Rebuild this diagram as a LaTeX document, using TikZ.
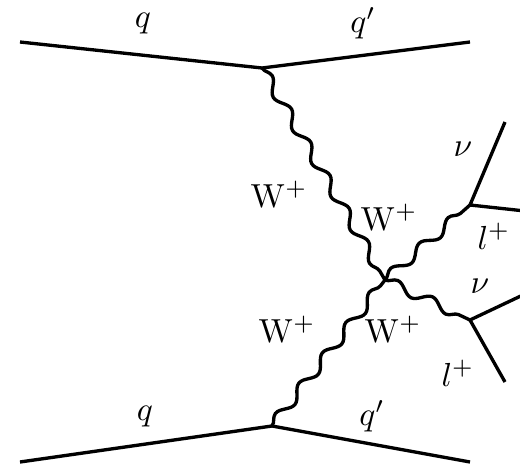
\documentclass[tikz,border=0pt]{standalone}
\usetikzlibrary{decorations.pathmorphing}
\begin{document}
\begin{tikzpicture}[x=0.3pt,y=-0.3pt,
  fermion/.style={line width=1pt},
  boson/.style={line width=1pt,decorate,decoration={snake,segment length=11.5pt,amplitude=1.5pt}},
  lab/.style={inner sep=0pt}]
\useasboundingbox (0,0) rectangle (520,465);
% vertices
\coordinate (tl) at (20,42);
\coordinate (tv) at (262,68);
\coordinate (tr) at (470,42);
\coordinate (bl) at (20,462);
\coordinate (bv) at (272,426);
\coordinate (br) at (470,462);
\coordinate (c) at (385,280);
\coordinate (uv) at (470,205);
\coordinate (lv) at (470,320);
\coordinate (unu) at (505,122);
\coordinate (ul) at (525,211);
\coordinate (lnu) at (525,294);
\coordinate (ll) at (505,382);
% fermion lines
\draw[fermion] (tl) -- (tv) -- (tr);
\draw[fermion] (bl) -- (bv) -- (br);
\draw[fermion] (unu) -- (uv) -- (ul);
\draw[fermion] (lnu) -- (lv) -- (ll);
% bosons
\draw[boson] (tv) -- (c);
\draw[boson] (c) -- (uv);
\draw[boson] (bv) -- (c);
\draw[boson] (c) -- (lv);
% labels
\node[lab] (q1) at (143,24) {$q$};
\node[lab] (q2) at (363,23) {$q'$};
\node[lab] (q3) at (145,417) {$q$};
\node[lab] (q4) at (372,416) {$q'$};
\node[lab] (w1) at (279,194) {$\mathrm{W}^+$};
\node[lab] (w2) at (389,217) {$\mathrm{W}^+$};
\node[lab] (w3) at (287,329) {$\mathrm{W}^+$};
\node[lab] (w4) at (393,329) {$\mathrm{W}^+$};
\node[lab] (n1) at (463,149) {$\nu$};
\node[lab] (l1) at (494,236) {$l^+$};
\node[lab] (n2) at (480,286) {$\nu$};
\node[lab] (l2) at (458,373) {$l^+$};
\end{tikzpicture}
\end{document}
